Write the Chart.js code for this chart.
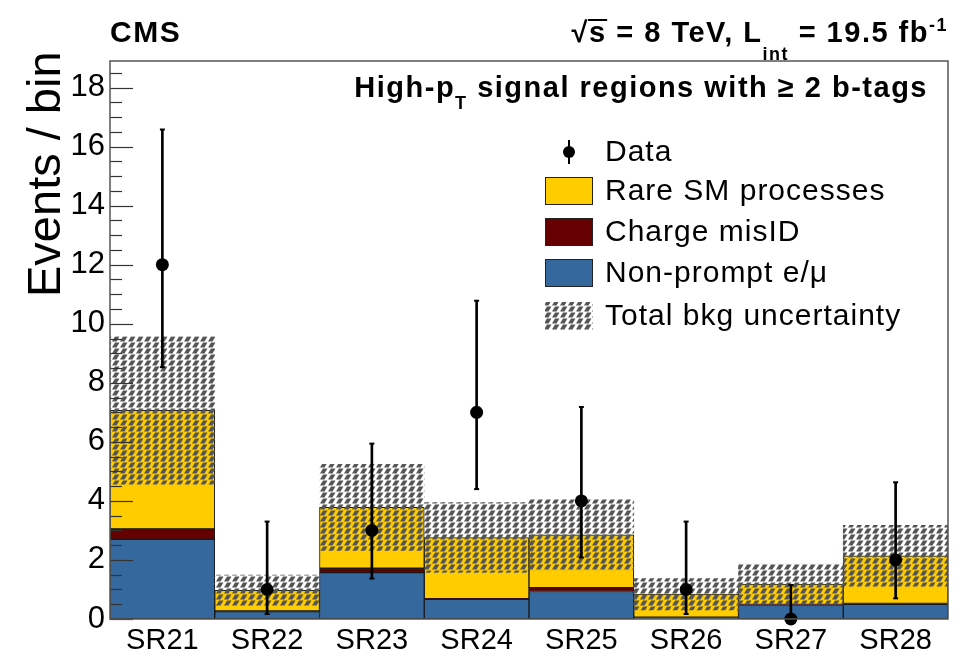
<!DOCTYPE html>
<html>
<head>
<meta charset="utf-8">
<title>High-pT signal regions with 2 b-tags</title>
<script src="https://cdn.jsdelivr.net/npm/chart.js@4.4.1/dist/chart.umd.min.js"></script>
<style>
  html, body { margin: 0; padding: 0; background: #fff; }
  canvas { display: block; }
</style>
</head>
<body>
<canvas id="chart1" width="959" height="653"></canvas>
<script>
// signal regions
const regions = ['SR21', 'SR22', 'SR23', 'SR24', 'SR25', 'SR26', 'SR27', 'SR28']

// background predictions (stacked)
const nonPrompt   = [2.70, 0.25, 1.57, 0.67, 0.93, 0.05, 0.48, 0.50]
const chargeMisId = [0.35, 0.02, 0.15, 0.02, 0.13, 0.01, 0.01, 0.03]
const rareSM      = [4.02, 0.70, 2.06, 2.07, 1.79, 0.78, 0.69, 1.61]
const bkgUnc      = [2.50, 0.52, 1.46, 1.18, 1.19, 0.53, 0.68, 1.03]

// observed events and their error bar edges
const observed  = [12, 1, 3, 7, 4, 1, 0, 2]
const dataLower = [8.53, 0.17, 1.37, 4.40, 2.08, 0.17, 0, 0.70]
const dataUpper = [16.58, 3.30, 5.94, 10.78, 7.18, 3.30, 1.15, 4.63]

const yTicks = [0, 2, 4, 6, 8, 10, 12, 14, 16, 18]
const yMax = 18.9

const FONT = "'Liberation Sans', Arial, Helvetica, sans-serif"

const totalBkg = regions.map((r, i) => nonPrompt[i] + chargeMisId[i] + rareSM[i])
const uncBand = totalBkg.map((t, i) => [t - bkgUnc[i], t + bkgUnc[i]])
const errBars = observed.map((o, i) => [dataLower[i], dataUpper[i]])

// grey dash hatch like the ROOT fill style
function makeHatch(bg) {
  const c = document.createElement('canvas')
  c.width = 8; c.height = 6
  const g = c.getContext('2d')
  if (bg) { g.fillStyle = bg; g.fillRect(0, 0, 8, 6) }
  g.fillStyle = '#555'
  g.beginPath()
  g.moveTo(0, 5.5); g.lineTo(3, 0.5); g.lineTo(7.5, 0.5); g.lineTo(4.5, 5.5)
  g.closePath(); g.fill()
  return g.createPattern(c, 'repeat')
}

const ctx0 = document.getElementById('chart1').getContext('2d')
const hatch = makeHatch(null)
const hatchLegend = makeHatch('#ffffff')

function richText(ctx, parts, xRight, baseline, spacing) {
  ctx.letterSpacing = (spacing || 0) + 'px'
  let w = 0
  parts.forEach(p => { ctx.font = p.font; w += ctx.measureText(p.text).width })
  let x = xRight - w
  const pos = []
  parts.forEach(p => {
    ctx.font = p.font
    ctx.fillText(p.text, x, baseline + (p.dy || 0))
    pos.push(x)
    x += ctx.measureText(p.text).width
  })
  ctx.letterSpacing = '0px'
  return pos
}

const framePlugin = {
  id: 'frame',
  afterDatasetsDraw(chart) {
    const { ctx, chartArea: a } = chart
    const y = chart.scales.y
    ctx.save()
    // error bar end caps
    const meta = chart.getDatasetMeta(4)
    ctx.fillStyle = '#000'
    meta.data.forEach(el => {
      ctx.fillRect(el.x - 2.5, el.y - 1, 5, 2)
      if (el.base < a.bottom - 1) ctx.fillRect(el.x - 2.5, el.base - 1, 5, 2)
    })
    // inward ticks on the y axis
    ctx.strokeStyle = '#333'
    ctx.lineWidth = 1.2
    for (let v = 0; v <= yMax; v += 0.5) {
      const py = Math.round(y.getPixelForValue(v)) + 0.5
      const len = (v % 2 === 0) ? 23 : 12
      ctx.beginPath(); ctx.moveTo(a.left, py); ctx.lineTo(a.left + len, py); ctx.stroke()
    }
    // frame
    ctx.strokeStyle = '#555'
    ctx.lineWidth = 1.5
    ctx.strokeRect(a.left, a.top, a.right - a.left, a.bottom - a.top)
    ctx.restore()
  },
  afterDraw(chart) {
    const { ctx, chartArea: a } = chart
    ctx.save()
    ctx.fillStyle = '#000'
    ctx.textBaseline = 'alphabetic'

    // header
    ctx.font = 'bold 30px ' + FONT
    ctx.textAlign = 'left'
    ctx.letterSpacing = '1.5px'
    ctx.fillText('CMS', a.left, 42)
    ctx.letterSpacing = '0px'

    const big = 'bold 29px ' + FONT, small = 'bold 18px ' + FONT
    const pos = richText(ctx, [
      { text: '\u221A', font: big },
      { text: 's = 8 TeV, L', font: big },
      { text: 'int', font: small, dy: 18 },
      { text: ' = 19.5 fb', font: big },
      { text: '-1', font: small, dy: -11 }
    ], a.right, 42, 1.5)
    ctx.font = big
    const sw = ctx.measureText('s').width
    ctx.lineWidth = 2
    ctx.strokeStyle = '#000'
    ctx.beginPath(); ctx.moveTo(pos[1] - 1, 20); ctx.lineTo(pos[1] + sw + 2, 20); ctx.stroke()

    richText(ctx, [
      { text: 'High-p', font: 'bold 29px ' + FONT },
      { text: 'T', font: 'bold 18px ' + FONT, dy: 12 },
      { text: ' signal regions with \u2265 2 b-tags', font: 'bold 29px ' + FONT }
    ], a.right - 20, 97, 1.5)

    // y axis title
    ctx.save()
    ctx.translate(60, 297)
    ctx.rotate(-Math.PI / 2)
    ctx.font = '47px ' + FONT
    ctx.textAlign = 'left'
    ctx.fillText('Events / bin', 0, 0)
    ctx.restore()

    // legend
    const ds = chart.data.datasets
    const rows = [
      { label: ds[5].label, y: 152, kind: 'point' },
      { label: ds[2].label, y: 191, fill: ds[2].backgroundColor },
      { label: ds[1].label, y: 232, fill: ds[1].backgroundColor },
      { label: ds[0].label, y: 273, fill: ds[0].backgroundColor },
      { label: ds[3].label, y: 316, fill: hatchLegend }
    ]
    ctx.font = '30px ' + FONT
    ctx.letterSpacing = '1px'
    ctx.textBaseline = 'middle'
    rows.forEach(r => {
      if (r.kind === 'point') {
        ctx.fillStyle = '#000'
        ctx.fillRect(568, r.y - 12, 2, 24)
        ctx.beginPath(); ctx.arc(569, r.y, 6, 0, Math.PI * 2); ctx.fill()
      } else {
        ctx.fillStyle = r.fill
        ctx.fillRect(545, r.y - 14, 48, 28)
        if (r.fill !== hatchLegend) {
          ctx.strokeStyle = '#222'; ctx.lineWidth = 1
          ctx.strokeRect(545.5, r.y - 13.5, 47, 27)
        }
      }
      ctx.fillStyle = '#000'
      ctx.fillText(r.label, 605, r.y + 1)
    })
    ctx.restore()
  }
}

new Chart(ctx0, {
  type: 'bar',
  data: {
    labels: regions,
    datasets: [
      { label: 'Non-prompt e/\u03BC', data: nonPrompt, backgroundColor: '#35689c', borderColor: '#1a1a1a', borderWidth: 1, borderSkipped: false, order: 3 },
      { label: 'Charge misID', data: chargeMisId, backgroundColor: '#660000', borderColor: '#1a1a1a', borderWidth: 1, borderSkipped: false, order: 3 },
      { label: 'Rare SM processes', data: rareSM, backgroundColor: '#ffcc00', borderColor: '#1a1a1a', borderWidth: 1, borderSkipped: false, order: 3 },
      { label: 'Total bkg uncertainty', data: uncBand, yAxisID: 'yb', grouped: false, backgroundColor: hatch, borderWidth: 0, order: 2 },
      { label: 'Data errors', data: errBars, yAxisID: 'yb', grouped: false, barThickness: 2, backgroundColor: '#000', borderWidth: 0, order: 1 },
      { type: 'line', label: 'Data', data: observed, yAxisID: 'yb', showLine: false, pointRadius: 6.5, pointHoverRadius: 6.5, pointBackgroundColor: '#000', pointBorderWidth: 0, clip: false, order: 0 }
    ]
  },
  options: {
    responsive: false,
    animation: false,
    categoryPercentage: 1,
    barPercentage: 1,
    layout: { padding: { top: 61, right: 11, left: 0, bottom: 0 } },
    plugins: { legend: { display: false }, tooltip: { enabled: false } },
    scales: {
      x: {
        stacked: true,
        grid: { display: false, drawTicks: false },
        border: { display: false },
        ticks: { color: '#000', padding: 5, font: { family: FONT, size: 29 } },
        afterFit: s => { s.height = 34 }
      },
      y: {
        stacked: true,
        min: 0,
        max: yMax,
        grid: { display: false, drawTicks: false },
        border: { display: false },
        ticks: { color: '#000', padding: 5, font: { family: FONT, size: 31 } },
        afterBuildTicks: s => { s.ticks = yTicks.map(v => ({ value: v })) },
        afterFit: s => { s.width = 110 }
      },
      yb: {
        display: false,
        stacked: false,
        min: 0,
        max: yMax
      }
    }
  },
  plugins: [framePlugin]
})
</script>
</body>
</html>
